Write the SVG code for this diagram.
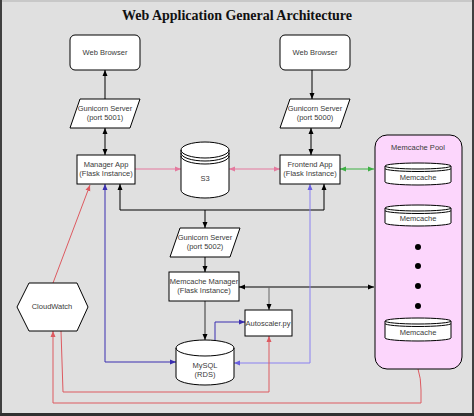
<svg xmlns="http://www.w3.org/2000/svg" width="474" height="416" viewBox="0 0 474 416">
<style>
.n{fill:#fff;stroke:#000;stroke-width:1}
.t{font-family:"Liberation Sans",Arial,sans-serif;font-size:7.5px;fill:#3a3a3a;text-anchor:middle}
.c{fill:none;stroke-width:1}
.k{stroke:#000}
.d{stroke:#333}
.g{stroke:#666}
.p{stroke:#e5799e}
.gr{stroke:#3cb043}
.b{stroke:#3a2fb0}
.lb{stroke:#8a80f0}
.r{stroke:#dd5a60}
</style>
<defs>
<marker id="ak" viewBox="0 0 6 6" refX="6" refY="3" markerWidth="6" markerHeight="6" markerUnits="userSpaceOnUse" orient="auto-start-reverse"><path d="M0,0.5 L6,3 L0,5.5 Z" fill="#000"/></marker>
<marker id="ap" viewBox="0 0 6 6" refX="6" refY="3" markerWidth="6" markerHeight="6" markerUnits="userSpaceOnUse" orient="auto-start-reverse"><path d="M0,0.5 L6,3 L0,5.5 Z" fill="#e5799e"/></marker>
<marker id="agr" viewBox="0 0 6 6" refX="6" refY="3" markerWidth="6" markerHeight="6" markerUnits="userSpaceOnUse" orient="auto-start-reverse"><path d="M0,0.5 L6,3 L0,5.5 Z" fill="#3cb043"/></marker>
<marker id="ab" viewBox="0 0 6 6" refX="6" refY="3" markerWidth="6" markerHeight="6" markerUnits="userSpaceOnUse" orient="auto-start-reverse"><path d="M0,0.5 L6,3 L0,5.5 Z" fill="#3a2fb0"/></marker>
<marker id="alb" viewBox="0 0 6 6" refX="6" refY="3" markerWidth="6" markerHeight="6" markerUnits="userSpaceOnUse" orient="auto-start-reverse"><path d="M0,0.5 L6,3 L0,5.5 Z" fill="#6a60e0"/></marker>
<marker id="ar" viewBox="0 0 6 6" refX="6" refY="3" markerWidth="6" markerHeight="6" markerUnits="userSpaceOnUse" orient="auto-start-reverse"><path d="M0,0.5 L6,3 L0,5.5 Z" fill="#dd5a60"/></marker>
</defs>
<rect x="0" y="0" width="474" height="416" fill="#e0e0e0"/>
<line x1="0" y1="1" x2="474" y2="1" stroke="#c8c8c8" stroke-width="2"/>
<line x1="1" y1="0" x2="1" y2="416" stroke="#404040" stroke-width="2"/>
<line x1="473" y1="0" x2="473" y2="416" stroke="#404040" stroke-width="2"/>
<line x1="0" y1="414.5" x2="474" y2="414.5" stroke="#303030" stroke-width="3"/>
<text x="237" y="20" font-family="Liberation Serif,'Times New Roman',serif" font-weight="bold" font-size="14" text-anchor="middle" fill="#111">Web Application General Architecture</text>

<g id="connectors">
<line class="c k" x1="105" y1="99" x2="105" y2="70" marker-end="url(#ak)"/>
<line class="c k" x1="312" y1="70" x2="312" y2="99" marker-end="url(#ak)"/>
<line class="c k" x1="105" y1="128" x2="105" y2="155" marker-start="url(#ak)" marker-end="url(#ak)"/>
<line class="c k" x1="311" y1="128" x2="311" y2="155" marker-start="url(#ak)" marker-end="url(#ak)"/>
<line class="c p" x1="135" y1="169" x2="181" y2="169" marker-end="url(#ap)"/>
<line class="c p" x1="229" y1="169" x2="280" y2="169" marker-start="url(#ap)" marker-end="url(#ap)"/>
<line class="c gr" x1="340" y1="169" x2="374" y2="169" marker-start="url(#agr)" marker-end="url(#agr)"/>
<path class="c k" d="M120,184 V210 H324 V184" marker-start="url(#ak)" marker-end="url(#ak)"/>
<line class="c k" x1="205" y1="210" x2="205" y2="228" marker-end="url(#ak)"/>
<line class="c k" x1="205" y1="257" x2="205" y2="272" marker-end="url(#ak)"/>
<line class="c k" x1="239" y1="287" x2="374" y2="287" marker-start="url(#ak)" marker-end="url(#ak)"/>
<line class="c g" x1="269" y1="287" x2="269" y2="310" marker-end="url(#ak)"/>
<line class="c d" x1="205" y1="301" x2="205" y2="340" marker-end="url(#ak)"/>
<path class="c b" d="M215,341 V322 H245" marker-end="url(#ab)"/>
<path class="c b" d="M105,184 V362 H176" marker-start="url(#ab)" marker-end="url(#ab)"/>
<path class="c lb" d="M310,184 V363 H234" marker-start="url(#alb)" marker-end="url(#alb)"/>
<line class="c r" x1="53" y1="283" x2="90" y2="185" marker-end="url(#ar)"/>
<path class="c r" d="M61,331 L63,392 H269 V336" marker-end="url(#ar)"/>
<path class="c r" d="M418,369 Q421,378 421,390 V403 H53 V331" marker-end="url(#ar)"/>
</g>

<g id="browser-left"><rect class="n" x="70" y="35" width="70" height="35" rx="5"/><text class="t" x="105" y="55">Web Browser</text></g>
<g id="browser-right"><rect class="n" x="280" y="35" width="70" height="35" rx="5"/><text class="t" x="315" y="55">Web Browser</text></g>
<g id="gunicorn-5001"><polygon class="n" points="80,99 140,99 130,128 70,128"/><text class="t" x="105" y="111">Gunicorn Server</text><text class="t" x="105" y="120">(port 5001)</text></g>
<g id="gunicorn-5000"><polygon class="n" points="290,99 350,99 340,128 280,128"/><text class="t" x="315" y="111">Gunicorn Server</text><text class="t" x="315" y="120">(port 5000)</text></g>
<g id="manager-app"><rect class="n" x="77" y="155" width="58" height="29"/><text class="t" x="106" y="167">Manager App</text><text class="t" x="106" y="176">(Flask Instance)</text></g>
<g id="frontend-app"><rect class="n" x="280" y="155" width="60" height="29"/><text class="t" x="310" y="167">Frontend App</text><text class="t" x="310" y="176">(Flask Instance)</text></g>
<g id="s3">
<path class="n" d="M181,150 A24,8 0 0 1 229,150 V190 A24,8 0 0 1 181,190 Z"/>
<path class="c k" d="M181,150 A24,8 0 0 0 229,150 M181,153 A24,8 0 0 0 229,153 M181,156 A24,8 0 0 0 229,156"/>
<text class="t" x="205" y="181">S3</text>
</g>
<g id="gunicorn-5002"><polygon class="n" points="180,228 240,228 230,257 170,257"/><text class="t" x="205" y="240">Gunicorn Server</text><text class="t" x="205" y="249">(port 5002)</text></g>
<g id="memcache-manager"><rect class="n" x="169" y="272" width="70" height="29"/><text class="t" x="204" y="284">Memcache Manager</text><text class="t" x="204" y="293">(Flask Instance)</text></g>
<g id="autoscaler"><rect class="n" x="245" y="310" width="47" height="26"/><text class="t" x="268" y="326">Autoscaler.py</text></g>
<g id="mysql">
<path class="n" d="M176,348 A29,8 0 0 1 234,348 V377 A29,8 0 0 1 176,377 Z"/>
<path class="c k" d="M176,348 A29,8 0 0 0 234,348"/>
<text class="t" x="205" y="368">MySQL</text><text class="t" x="205" y="377">(RDS)</text>
</g>
<g id="cloudwatch"><polygon class="n" points="29,283 77,283 88,307 77,331 29,331 17,307"/><text class="t" x="52" y="309">CloudWatch</text></g>
<g id="memcache-pool">
<rect x="375" y="135" width="87" height="234" rx="12" fill="#fcd6fc" stroke="#000"/>
<text class="t" x="418" y="150">Memcache Pool</text>
<g id="memcache-1">
<path class="n" d="M385,166 A33,3 0 0 1 451,166 V182 A33,3 0 0 1 385,182 Z"/>
<path class="c k" d="M385,166 A33,3 0 0 0 451,166 M385,168.5 A33,3 0 0 0 451,168.5"/>
<text class="t" x="418" y="180">Memcache</text>
</g>
<g id="memcache-2">
<path class="n" d="M385,208 A33,3 0 0 1 451,208 V223 A33,3 0 0 1 385,223 Z"/>
<path class="c k" d="M385,208 A33,3 0 0 0 451,208 M385,210.5 A33,3 0 0 0 451,210.5"/>
<text class="t" x="418" y="221">Memcache</text>
</g>
<g id="memcache-3">
<path class="n" d="M385,321 A33,3 0 0 1 451,321 V338 A33,3 0 0 1 385,338 Z"/>
<path class="c k" d="M385,321 A33,3 0 0 0 451,321 M385,323.5 A33,3 0 0 0 451,323.5"/>
<text class="t" x="418" y="335">Memcache</text>
</g>
<circle cx="418" cy="247" r="3" fill="#000"/>
<circle cx="418" cy="266" r="3" fill="#000"/>
<circle cx="418" cy="286" r="3" fill="#000"/>
<circle cx="418" cy="306" r="3" fill="#000"/>
</g>
</svg>
